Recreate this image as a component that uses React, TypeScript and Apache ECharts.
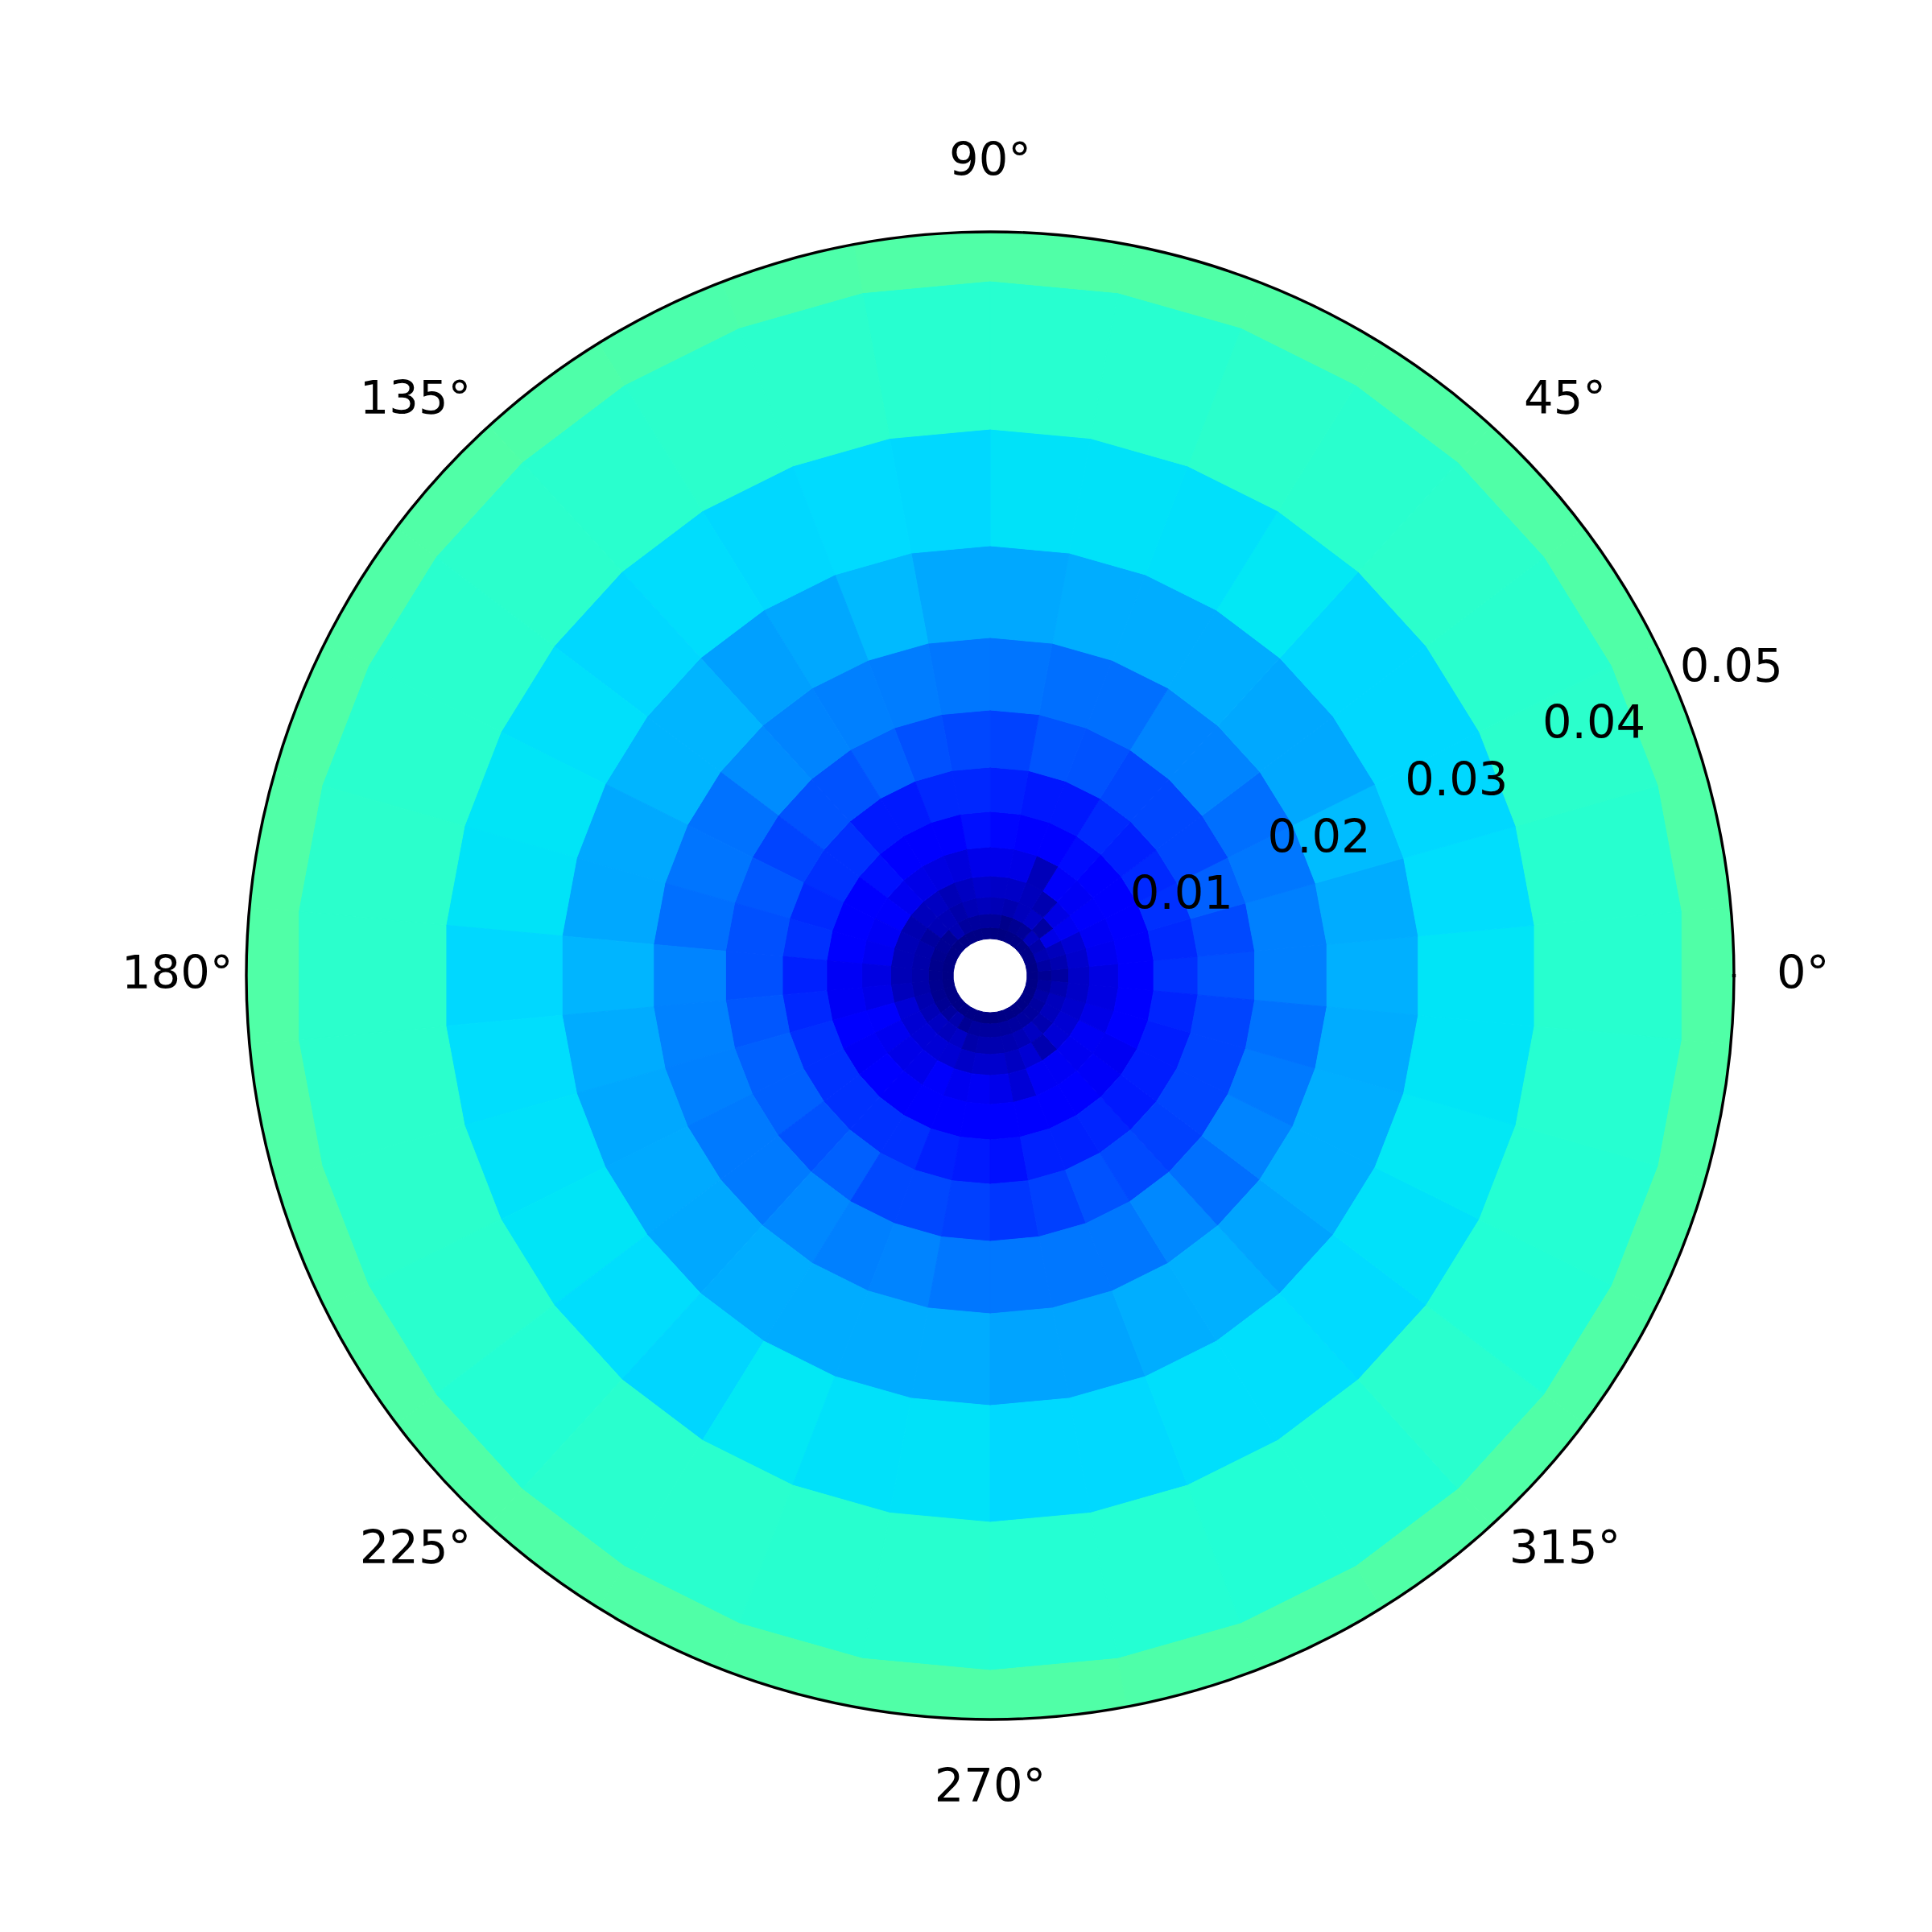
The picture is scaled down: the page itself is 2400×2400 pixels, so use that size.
import React, { useEffect, useRef } from "react";
import * as echarts from "echarts";

const radialEdges = [0.00249, 0.00325, 0.00417, 0.0053, 0.00671, 0.00866, 0.01104, 0.01402, 0.01786, 0.02273, 0.0289, 0.03674, 0.0467, 0.0594];
const radiusMax = 0.05;
const cellCount = 34;
const angleTicks = [0, 45, 90, 135, 180, 225, 270, 315];
const angleLabels = ["0°", "45°", "90°", "135°", "180°", "225°", "270°", "315°"];
const radiusTicks = [0.01, 0.02, 0.03, 0.04, 0.05];
const radiusLabels = ["0.01", "0.02", "0.03", "0.04", "0.05"];

// colour-scale positions read per cell; each ring runs counter-clockwise from 0 deg
const ring00 = [0.006, 0.006, 0.007, 0.007, 0.007, 0.006, 0.005, 0.002, 0.002, 0.005, 0.006, 0.006, 0.006, 0.006, 0.006, 0.005, 0.005, 0.005, 0.005, 0.006, 0.006, 0.006, 0.006, 0.006, 0.005, 0.002, 0.002, 0.005, 0.006, 0.006, 0.006, 0.006, 0.006, 0.006];
const ring01 = [0.018, 0.031, 0.044, 0.036, 0.052, 0.021, 0.016, 0.01, 0.024, 0.026, 0.026, 0.026, 0.044, 0.018, 0.018, 0.014, 0.012, 0.012, 0.014, 0.014, 0.018, 0.026, 0.04, 0.018, 0.026, 0.026, 0.026, 0.026, 0.028, 0.028, 0.026, 0.028, 0.034, 0.026];
const ring02 = [0.028, 0.042, 0.052, 0.09, 0.03, 0.06, 0.052, 0.042, 0.047, 0.052, 0.047, 0.037, 0.047, 0.047, 0.027, 0.037, 0.037, 0.037, 0.037, 0.042, 0.047, 0.057, 0.052, 0.06, 0.037, 0.042, 0.042, 0.042, 0.047, 0.057, 0.042, 0.052, 0.052, 0.042];
const ring03 = [0.062, 0.067, 0.072, 0.1, 0.088, 0.042, 0.052, 0.062, 0.062, 0.067, 0.057, 0.047, 0.057, 0.052, 0.042, 0.047, 0.047, 0.047, 0.052, 0.075, 0.072, 0.075, 0.075, 0.072, 0.062, 0.067, 0.067, 0.057, 0.072, 0.042, 0.075, 0.072, 0.067, 0.062];
const ring04 = [0.085, 0.098, 0.102, 0.108, 0.102, 0.106, 0.05, 0.09, 0.093, 0.093, 0.08, 0.085, 0.09, 0.098, 0.108, 0.102, 0.098, 0.085, 0.09, 0.108, 0.098, 0.09, 0.093, 0.108, 0.098, 0.102, 0.093, 0.075, 0.102, 0.102, 0.098, 0.102, 0.09, 0.085];
const ring05 = [0.12, 0.12, 0.12, 0.12, 0.125, 0.135, 0.12, 0.12, 0.13, 0.14, 0.12, 0.12, 0.115, 0.14, 0.11, 0.122, 0.115, 0.102, 0.102, 0.11, 0.105, 0.11, 0.108, 0.12, 0.12, 0.12, 0.12, 0.12, 0.12, 0.112, 0.105, 0.1, 0.12, 0.12];
const ring06 = [0.172, 0.165, 0.172, 0.165, 0.156, 0.165, 0.148, 0.148, 0.156, 0.163, 0.163, 0.15, 0.15, 0.172, 0.172, 0.165, 0.172, 0.156, 0.163, 0.172, 0.172, 0.172, 0.172, 0.172, 0.156, 0.15, 0.14, 0.156, 0.156, 0.16, 0.15, 0.153, 0.153, 0.16];
const ring07 = [0.203, 0.197, 0.219, 0.195, 0.195, 0.195, 0.205, 0.207, 0.19, 0.195, 0.203, 0.22, 0.205, 0.205, 0.192, 0.21, 0.203, 0.203, 0.21, 0.219, 0.219, 0.205, 0.219, 0.195, 0.195, 0.188, 0.178, 0.188, 0.205, 0.197, 0.188, 0.192, 0.192, 0.192];
const ring08 = [0.25, 0.25, 0.242, 0.234, 0.254, 0.254, 0.234, 0.234, 0.24, 0.242, 0.248, 0.25, 0.254, 0.262, 0.237, 0.24, 0.234, 0.254, 0.252, 0.25, 0.245, 0.245, 0.258, 0.25, 0.254, 0.242, 0.242, 0.242, 0.242, 0.258, 0.234, 0.254, 0.245, 0.237];
const ring09 = [0.298, 0.294, 0.309, 0.29, 0.29, 0.295, 0.295, 0.295, 0.29, 0.29, 0.307, 0.29, 0.282, 0.302, 0.302, 0.291, 0.29, 0.302, 0.294, 0.29, 0.292, 0.29, 0.295, 0.294, 0.294, 0.294, 0.286, 0.286, 0.296, 0.298, 0.286, 0.296, 0.296, 0.294];
const ring10 = [0.35, 0.343, 0.337, 0.337, 0.337, 0.352, 0.345, 0.347, 0.347, 0.337, 0.34, 0.337, 0.342, 0.337, 0.345, 0.35, 0.348, 0.337, 0.343, 0.346, 0.35, 0.343, 0.335, 0.352, 0.346, 0.347, 0.338, 0.338, 0.344, 0.344, 0.34, 0.346, 0.352, 0.35];
const ring11 = [0.398, 0.398, 0.402, 0.4, 0.402, 0.4, 0.402, 0.397, 0.397, 0.397, 0.402, 0.402, 0.4, 0.402, 0.4, 0.4, 0.402, 0.402, 0.402, 0.402, 0.4, 0.394, 0.4, 0.4, 0.398, 0.398, 0.394, 0.394, 0.391, 0.391, 0.4, 0.391, 0.394, 0.396];
const ring12 = [0.447, 0.447, 0.447, 0.447, 0.447, 0.447, 0.447, 0.447, 0.447, 0.447, 0.443, 0.441, 0.445, 0.447, 0.447, 0.447, 0.447, 0.447, 0.447, 0.447, 0.447, 0.447, 0.447, 0.447, 0.447, 0.447, 0.447, 0.445, 0.445, 0.447, 0.447, 0.447, 0.447, 0.447];
const rings = [ring00, ring01, ring02, ring03, ring04, ring05, ring06, ring07, ring08, ring09, ring10, ring11, ring12];

// matplotlib "jet" segment data
const jetRed = [[0, 0], [0.35, 0], [0.66, 1], [0.89, 1], [1, 0.5]];
const jetGreen = [[0, 0], [0.125, 0], [0.375, 1], [0.64, 1], [0.91, 0], [1, 0]];
const jetBlue = [[0, 0.5], [0.11, 1], [0.34, 1], [0.65, 0], [1, 0]];

function channel(stops: number[][], v: number) {
  for (let i = 1; i < stops.length; i++) {
    if (v <= stops[i][0]) {
      const t = (v - stops[i - 1][0]) / (stops[i][0] - stops[i - 1][0]);
      return Math.round(255 * (stops[i - 1][1] + t * (stops[i][1] - stops[i - 1][1])));
    }
  }
  return Math.round(255 * stops[stops.length - 1][1]);
}

const jetColors: string[] = [];
for (let i = 0; i <= 1000; i++) {
  const v = i / 1000;
  jetColors.push(`rgb(${channel(jetRed, v)},${channel(jetGreen, v)},${channel(jetBlue, v)})`);
}

const FONT = "'DejaVu Sans'";

export default function App() {
  const ref = useRef<HTMLDivElement>(null);
  useEffect(() => {
    const chart = echarts.init(ref.current!, undefined, { renderer: "svg" });
    const step = 360 / cellCount;
    const meshData: number[][] = [];
    rings.forEach((row, ring) => row.forEach((v, k) => meshData.push([ring, k, v])));

    const labelData = [
      ...angleTicks.map((a, i) => ({ value: [radiusMax + 0.00464, a], text: angleLabels[i] })),
      ...radiusTicks.map((r, i) => ({ value: [r + 0.00393, 22.5], text: radiusLabels[i] })),
    ];

    chart.setOption({
      animation: false,
      backgroundColor: "#ffffff",
      polar: { center: [1230, 1212], radius: 924 },
      angleAxis: {
        type: "value",
        min: 0,
        max: 360,
        interval: 45,
        startAngle: 0,
        clockwise: false,
        z: 10,
        axisLine: { show: true, lineStyle: { color: "#000000", width: 3.4 } },
        axisTick: { show: false },
        axisLabel: { show: false },
        splitLine: { show: false },
      },
      radiusAxis: {
        type: "value",
        min: 0,
        max: radiusMax,
        interval: 0.01,
        axisLine: { show: false },
        axisTick: { show: false },
        axisLabel: { show: false },
        splitLine: { show: false },
      },
      visualMap: {
        show: false,
        seriesIndex: 0,
        dimension: 2,
        min: 0,
        max: 1,
        inRange: { color: jetColors },
      },
      series: [
        {
          type: "custom",
          coordinateSystem: "polar",
          clip: false,
          data: meshData,
          renderItem: (_p: any, api: any) => {
            const ring = api.value(0);
            const k = api.value(1);
            const a0 = (k - 0.5) * step;
            const a1 = (k + 0.5) * step;
            const rIn = radialEdges[ring];
            const rOutRaw = radialEdges[ring + 1];
            const pts: number[][] = [];
            const pt = (r: number, a: number) => api.coord([r, a]).slice(0, 2);
            pts.push(pt(rIn, a0), pt(rIn, a1));
            if (rOutRaw > radiusMax) {
              const n = 8;
              for (let i = n; i >= 0; i--) pts.push(pt(radiusMax, a0 + ((a1 - a0) * i) / n));
            } else {
              pts.push(pt(rOutRaw, a1), pt(rOutRaw, a0));
            }
            const color = api.visual("color");
            return {
              type: "polygon",
              shape: { points: pts },
              style: { fill: color, stroke: color, lineWidth: 1 },
            };
          },
        },
        {
          type: "custom",
          coordinateSystem: "polar",
          clip: false,
          z: 20,
          data: labelData,
          renderItem: (p: any, api: any) => {
            const c = api.coord([api.value(0), api.value(1)]);
            return {
              type: "text",
              x: c[0],
              y: c[1] - 3.5,
              style: {
                text: labelData[p.dataIndex].text,
                fill: "#000000",
                font: `57.5px ${FONT}`,
                textAlign: "center",
                textVerticalAlign: "middle",
              },
            };
          },
        },
        {
          type: "custom",
          coordinateSystem: "polar",
          clip: false,
          z: 15,
          data: [[radiusMax, 0]],
          renderItem: (_p: any, api: any) => {
            const c = api.coord([api.value(0), api.value(1)]);
            return {
              type: "rect",
              shape: { x: c[0] - 2.2, y: c[1] - 2, width: 4.4, height: 4 },
              style: { fill: "#000000" },
            };
          },
        },
      ],
    });
    return () => chart.dispose();
  }, []);
  return <div ref={ref} style={{ position: "absolute", left: 0, top: 0, width: 2400, height: 2400 }} />;
}
